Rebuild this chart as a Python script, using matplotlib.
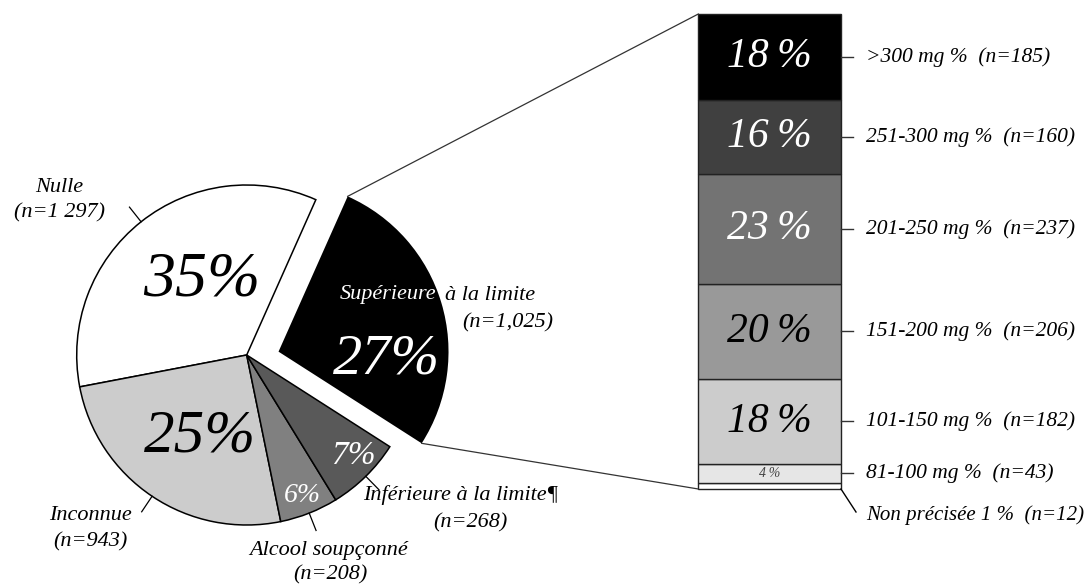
import numpy as np
import matplotlib.pyplot as plt

# pie: blood alcohol status
pie_names = ["Nulle", "Inconnue", "Alcool soupçonné", "Inférieure à la limite¶", "Supérieure à la limite"]
pie_counts = [1297, 943, 208, 268, 1025]
pie_colors = ["#ffffff", "#cccccc", "#808080", "#595959", "#000000"]

# bar: breakdown of the "Supérieure" slice (bottom to top)
bar_names = ["Non précisée", "81-100", "101-150", "151-200", "201-250", "251-300", ">300"]
bar_counts = [12, 43, 182, 206, 237, 160, 185]
bar_colors = ["#ffffff", "#e6e6e6", "#cccccc", "#999999", "#737373", "#404040", "#000000"]

W, H = 1086, 584
FONT = "Liberation Serif"


def Y(y):
    # image pixel row -> data y
    return H - y


fig = plt.figure(figsize=(W / 100, H / 100), dpi=100)
ax = fig.add_axes([0, 0, 1, 1])

# ---- pie
cx, cy, R = 246.7, Y(355), 170
wedges, _ = ax.pie(pie_counts, colors=pie_colors, startangle=66, counterclock=True,
                   radius=R, center=(cx, cy),
                   wedgeprops=dict(edgecolor="black", linewidth=1.1))
# pull out the last slice
sup = wedges[-1]
d, a = 32, np.deg2rad(6)
sup.set_center((cx + d * np.cos(a), cy + d * np.sin(a)))
sup.set_edgecolor("none")

tot = sum(pie_counts)
pcts = [round(100 * c / tot) for c in pie_counts]

# leader ticks
for w in wedges[:4]:
    m = np.deg2rad((w.theta1 + w.theta2) / 2)
    ax.plot([cx + R * 1.0 * np.cos(m), cx + R * 1.11 * np.cos(m)],
            [cy + R * 1.0 * np.sin(m), cy + R * 1.11 * np.sin(m)], color="black", lw=0.9)

fs_lab = 16
txt = dict(family=FONT, style="italic", ha="center", va="center")
ax.text(59, Y(187), pie_names[0], fontsize=fs_lab, **txt)
ax.text(59, Y(213), f"(n=1 {pie_counts[0] % 1000})", fontsize=fs_lab, **txt)
ax.text(90, Y(516), pie_names[1], fontsize=fs_lab, **txt)
ax.text(90, Y(542), f"(n={pie_counts[1]})", fontsize=fs_lab, **txt)
ax.text(329, Y(550), pie_names[2], fontsize=fs_lab, **txt)
ax.text(330, Y(575), f"(n={pie_counts[2]})", fontsize=fs_lab, **txt)
ax.text(363, Y(495), pie_names[3], fontsize=fs_lab, family=FONT, style="italic", ha="left", va="center")
ax.text(470, Y(523), f"(n={pie_counts[3]})", fontsize=fs_lab, **txt)
ax.text(436, Y(295), "Supérieure", fontsize=fs_lab, color="white", family=FONT, style="italic",
        ha="right", va="center")
ax.text(445, Y(295), "à la limite", fontsize=fs_lab, family=FONT, style="italic", ha="left", va="center")
ax.text(553, Y(323), f"(n={pie_counts[4] // 1000},{pie_counts[4] % 1000:03d})", fontsize=fs_lab,
        family=FONT, style="italic", ha="right", va="center")

ax.text(202, Y(280), f"{pcts[0]}%", fontsize=46, **txt)
ax.text(200, Y(437), f"{pcts[1]}%", fontsize=44, **txt)
ax.text(302, Y(495), f"{pcts[2]}%", fontsize=20, color="white", **txt)
ax.text(353, Y(456), f"{pcts[3]}%", fontsize=24, color="white", **txt)
ax.text(387, Y(360), f"{pcts[4]}%", fontsize=42, color="white", **txt)

# ---- stacked bar
bx0, bx1 = 698.3, 841
btop, bbot = Y(14), Y(489)
scale = (btop - bbot) / sum(bar_counts)
heights = [c * scale for c in bar_counts]
bottoms = bbot + np.concatenate([[0], np.cumsum(heights)[:-1]])
bars = ax.bar((bx0 + bx1) / 2, heights, width=bx1 - bx0, bottom=bottoms, color=bar_colors,
              edgecolor="#222222", linewidth=1.0)

btot = sum(bar_counts)
bpct = [round(100 * c / btot) for c in bar_counts]
pct_style = [None, (10, "#444444"), (30, "black"), (30, "black"), (30, "white"), (30, "white"), (30, "white")]
for i in range(1, len(bar_counts)):
    mid = bottoms[i] + heights[i] / 2
    fs, col = pct_style[i]
    ax.text((bx0 + bx1) / 2, mid, f"{bpct[i]}\u2009%", fontsize=fs, color=col, **txt)
    ax.plot([bx1, bx1 + 12], [mid, mid], color="#333333", lw=1.0)
    ax.text(866, mid, f"{bar_names[i]} mg %  (n={bar_counts[i]})", fontsize=15.5,
            family=FONT, style="italic", ha="left", va="center")
# unspecified
ax.plot([bx1, 856], [bbot, Y(512)], color="black", lw=1.0)
ax.text(866, Y(515), f"{bar_names[0]} {bpct[0]} %  (n={bar_counts[0]})", fontsize=15,
        family=FONT, style="italic", ha="left", va="center")

# ---- connectors from pulled-out slice to bar
sx, sy = sup.center
t1, t2 = np.deg2rad(sup.theta1), np.deg2rad(sup.theta2)
ax.plot([sx + R * np.cos(t2), bx0], [sy + R * np.sin(t2), btop], color="#333333", lw=0.9)
ax.plot([sx + R * np.cos(t1), bx0], [sy + R * np.sin(t1), bbot], color="#333333", lw=0.9)

ax.set_xlim(0, W)
ax.set_ylim(0, H)
ax.set_aspect("auto")
ax.axis("off")

fig.savefig("out.png", dpi=100)
